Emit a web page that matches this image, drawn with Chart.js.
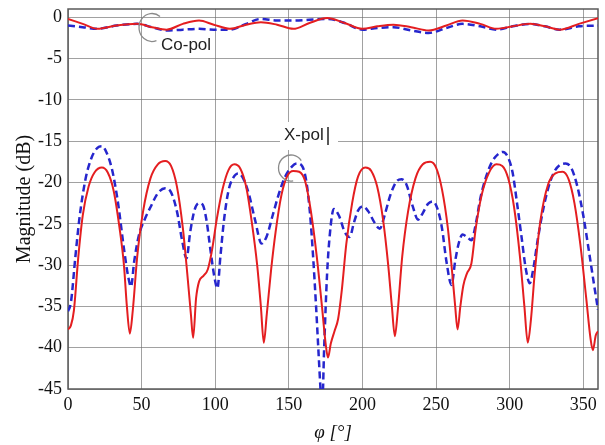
<!DOCTYPE html>
<html>
<head>
<meta charset="utf-8">
<script src="https://cdn.jsdelivr.net/npm/chart.js@4/dist/chart.umd.min.js"></script>
<style>
  body { margin: 0; background: #fff; }
  #wrap { width: 605px; height: 445px; position: relative; }
</style>
</head>
<body>
<div id="wrap"><canvas id="pattern-chart"></canvas></div>
<script>
// co-pol curves (shared angles)
const copolAngles = [0, 10, 20, 33, 47, 57, 67, 78, 89, 99, 110, 121, 131, 142, 153, 164, 176, 188, 200, 210, 221, 233, 245, 257, 268, 280, 291, 302, 314, 324, 334, 347, 360];
const copolRed  = [-0.2, -0.8, -1.4, -1.0, -0.8, -1.2, -1.5, -0.8, -0.4, -0.9, -1.4, -0.9, -0.6, -0.9, -1.4, -0.7, -0.1, -0.7, -1.4, -1.1, -0.9, -1.2, -1.6, -1.0, -0.4, -0.8, -1.4, -1.1, -0.8, -1.1, -1.5, -0.8, -0.1];
const copolBlue = [-1.0, -1.2, -1.4, -1.0, -0.8, -1.2, -1.6, -1.5, -1.4, -1.5, -1.5, -0.8, -0.2, -0.4, -0.4, -0.3, -0.2, -0.7, -1.5, -1.3, -1.2, -1.6, -1.9, -1.3, -0.8, -1.1, -1.5, -1.1, -0.8, -1.1, -1.5, -1.1, -1.0];

// x-pol, solid red
const xpolRedAngles = [0, 2, 4, 7, 10, 14, 18, 23, 27, 31, 35, 38, 40, 42, 44, 47, 51, 56, 61, 66, 70, 74, 78, 81, 83.5, 85, 87, 89, 92, 95, 98, 101, 105, 109, 113, 117, 121, 125, 128.5, 131, 133, 135, 138, 141, 145, 149, 153, 157, 161, 165, 169, 172.5, 175, 176.6, 178.5, 181, 183.5, 186, 189, 193, 197, 202, 206, 210, 214, 217.5, 220, 222, 224, 227, 231, 236, 241, 246, 250, 254, 258, 261, 263, 264.6, 266.5, 268.5, 271, 274, 277, 281, 286, 291, 295, 299, 303, 307, 310, 312.3, 314.5, 317, 321, 326, 331, 336, 340, 344, 348, 352, 355, 356.5, 358.5, 360];
const xpolRed = [-37.8, -37.3, -35.5, -29, -24, -20.5, -18.8, -18.2, -18.8, -21, -25.5, -30, -35, -38.3, -35.5, -29, -23.5, -19.5, -17.8, -17.4, -18, -20.5, -25.5, -31, -36, -38.8, -34, -32, -31.3, -30.5, -28, -24.5, -20.8, -18.5, -17.8, -18.3, -20.5, -25, -30, -35, -39.4, -36, -30.5, -26, -21.5, -19.2, -18.6, -18.7, -19.8, -23.5, -29, -35, -39.5, -41.2, -39.5, -38, -36.5, -33, -27.5, -22.5, -19.3, -18.2, -18.6, -20.5, -24.5, -30, -35, -38.6, -35.5, -29, -23.5, -19.5, -17.8, -17.5, -18.2, -20.8, -25.5, -31, -35, -37.8, -35, -32.5, -31, -29.8, -25.5, -21.5, -18.8, -17.8, -18, -19.5, -23, -29, -35, -39.4, -36.5, -31, -24.5, -20.3, -18.9, -18.7, -19.6, -22.5, -27.5, -34, -39, -40.3, -38.5, -38];

// x-pol, dashed blue
const xpolBlueAngles = [0, 2, 5, 8, 12, 16, 20, 23, 26, 30, 34, 38, 41, 42.8, 45, 48, 52, 56, 61, 66, 70, 74, 77.5, 80.5, 83, 86, 89, 91.5, 94, 97, 99.5, 101.5, 103.5, 106, 109, 112, 115.5, 119, 123, 127, 131.5, 135, 139, 143, 147, 151, 155.5, 159, 162, 164.5, 166.5, 168.5, 170, 171.5, 172.5, 174, 176, 178, 180.5, 184, 188, 191.4, 194, 197, 200.4, 204, 208, 211.8, 215, 219, 223, 226.5, 230, 234, 237.8, 241, 244.5, 248, 251, 254, 257, 260.5, 263, 265.5, 268, 271, 274, 277, 280, 284, 288, 292, 295.5, 299, 302, 305, 308, 311, 313.7, 316, 319, 322.5, 326, 330, 334, 338, 342, 346, 350, 354, 357, 360];
const xpolBlue = [-35.6, -34.5, -29, -24, -19.5, -17, -15.8, -15.6, -16.3, -18.5, -22.5, -28, -31.5, -32.6, -29.5, -26.5, -24.5, -23, -21.3, -20.7, -21.2, -23.5, -27, -29.2, -26, -23.3, -22.5, -22.7, -24.5, -28.5, -31.5, -32.8, -29, -24.5, -21, -19.5, -18.9, -19.5, -21.5, -24.5, -27.4, -26.5, -24, -21.5, -19.5, -18.3, -17.7, -18, -20, -24, -29, -35, -40, -45, -48, -40, -31, -26, -23.2, -24, -26, -26.6, -25, -23.4, -22.9, -23.5, -24.8, -25.6, -24, -21.5, -19.9, -19.6, -20.3, -22.8, -24.5, -23.7, -22.6, -22.3, -23.2, -25.5, -29.5, -32.4, -29.5, -27.3, -26.3, -26.6, -27, -25, -22, -19.3, -17.5, -16.6, -16.3, -17, -18.8, -22.5, -26.5, -30.5, -32.2, -30.5, -27, -23.5, -20.8, -18.8, -17.9, -17.7, -18.3, -20.5, -24, -28.5, -32, -35.4];

const xTicks = [0, 50, 100, 150, 200, 250, 300, 350];
const yTicks = [0, -5, -10, -15, -20, -25, -30, -35, -40, -45];

const toPoints = (xs, ys) => xs.map((x, i) => ({ x: x, y: ys[i] }));

const RED = 'rgb(228, 30, 32)';
const BLUE = 'rgb(38, 38, 205)';

const frameAndNotes = {
  id: 'frameAndNotes',
  beforeDatasetsDraw(chart) {
    const { ctx, chartArea: a } = chart;
    ctx.save();
    ctx.strokeStyle = '#5a5a5a';
    ctx.lineWidth = 1.5;
    ctx.strokeRect(a.left, a.top, a.right - a.left, a.bottom - a.top);
    // white box behind the X-pol label hides the grid
    ctx.fillStyle = '#fff';
    ctx.fillRect(280, 122, 58, 28);
    ctx.restore();
  },
  afterDraw(chart) {
    const ctx = chart.ctx;
    ctx.save();
    ctx.fillStyle = '#222';
    ctx.font = '17px "Liberation Sans", Arial, sans-serif';
    ctx.textBaseline = 'middle';
    ctx.textAlign = 'left';
    ctx.fillText('Co-pol', 161, 45);
    ctx.fillText('X-pol', 284, 135);
    // cursor-like bar after X-pol
    ctx.strokeStyle = '#222';
    ctx.lineWidth = 1.5;
    ctx.beginPath();
    ctx.moveTo(328, 127);
    ctx.lineTo(328, 145);
    ctx.stroke();
    // grey marker arcs
    ctx.strokeStyle = '#8a8a8a';
    ctx.lineWidth = 1.3;
    ctx.beginPath();
    ctx.ellipse(152, 27.5, 13, 14, 0, -52 * Math.PI / 180, 70 * Math.PI / 180, true);
    ctx.stroke();
    ctx.beginPath();
    ctx.ellipse(291, 168, 12.5, 13, 0, -35 * Math.PI / 180, 80 * Math.PI / 180, true);
    ctx.stroke();
    ctx.restore();
  }
};

const serif = '"Liberation Serif", "Times New Roman", serif';
const gridStyle = {
  color: 'rgba(110, 110, 110, 0.65)',
  lineWidth: 1,
  drawTicks: false
};

let ctx = document.getElementById('pattern-chart');
new Chart(ctx, {
  type: 'line',
  data: {
    datasets: [
      {
        label: 'Co-pol red',
        data: toPoints(copolAngles, copolRed),
        borderColor: RED,
        borderWidth: 2,
        pointRadius: 0,
        cubicInterpolationMode: 'monotone',
        fill: false
      },
      {
        label: 'Co-pol blue',
        data: toPoints(copolAngles, copolBlue),
        borderColor: BLUE,
        borderWidth: 2.5,
        borderDash: [7, 4],
        pointRadius: 0,
        cubicInterpolationMode: 'monotone',
        fill: false
      },
      {
        label: 'X-pol red',
        data: toPoints(xpolRedAngles, xpolRed),
        borderColor: RED,
        borderWidth: 2,
        pointRadius: 0,
        cubicInterpolationMode: 'monotone',
        fill: false
      },
      {
        label: 'X-pol blue',
        data: toPoints(xpolBlueAngles, xpolBlue),
        borderColor: BLUE,
        borderWidth: 2.5,
        borderDash: [7, 4],
        pointRadius: 0,
        cubicInterpolationMode: 'monotone',
        fill: false,
        clip: 0
      }
    ]
  },
  options: {
    responsive: true,
    maintainAspectRatio: false,
    animation: false,
    layout: { padding: { top: 9, right: 7, left: 0, bottom: 0 } },
    plugins: {
      legend: { display: false },
      tooltip: { enabled: false }
    },
    scales: {
      x: {
        type: 'linear',
        min: 0,
        max: 360,
        afterBuildTicks: (scale) => {
          scale.ticks = xTicks.map(v => ({ value: v }));
        },
        afterFit: (scale) => {
          scale.height = 56;
          scale.paddingLeft = 0;
          scale.paddingRight = 0;
        },
        grid: gridStyle,
        border: { display: false },
        ticks: {
          color: '#111',
          padding: 5,
          maxRotation: 0,
          font: { family: serif, size: 18 }
        },
        title: {
          display: true,
          text: 'φ [°]',
          color: '#111',
          padding: { top: 1, bottom: 1 },
          font: { family: serif, size: 19, style: 'italic' }
        }
      },
      y: {
        min: -45,
        max: 1,
        afterBuildTicks: (scale) => {
          scale.ticks = yTicks.map(v => ({ value: v }));
        },
        afterFit: (scale) => {
          scale.width = 68;
          scale.paddingTop = 0;
          scale.paddingBottom = 0;
        },
        grid: gridStyle,
        border: { display: false },
        ticks: {
          color: '#111',
          padding: 6,
          font: { family: serif, size: 18 }
        },
        title: {
          display: true,
          text: 'Magnitude (dB)',
          color: '#111',
          padding: { top: 13, bottom: 13 },
          font: { family: serif, size: 20 }
        }
      }
    }
  },
  plugins: [frameAndNotes]
});
</script>
</body>
</html>
